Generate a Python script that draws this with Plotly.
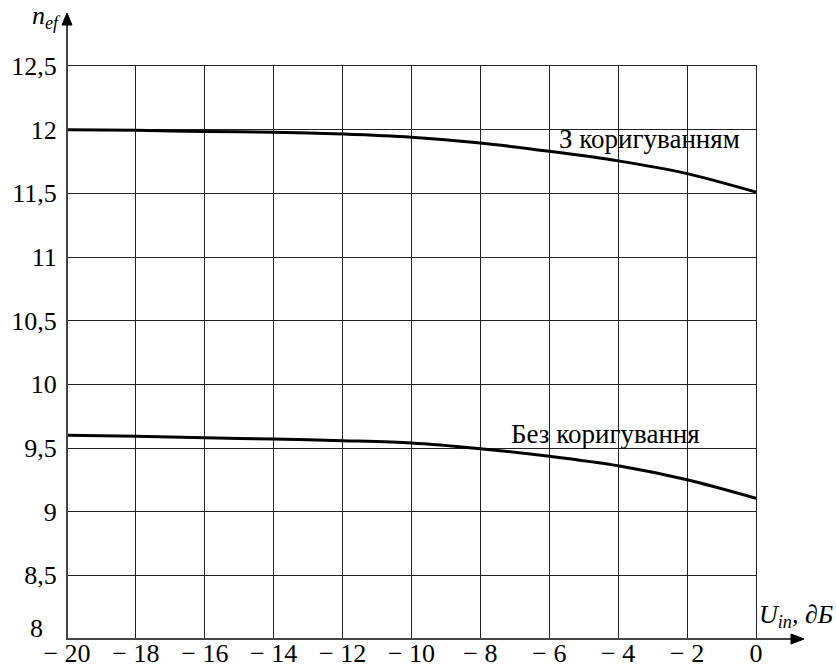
import plotly.graph_objects as go

# Input level, dB
u_in = [-20, -18, -16, -14, -12, -10, -8, -6, -4, -2, 0]
# Effective number of bits with and without correction
n_corrected = [12.00, 11.995, 11.985, 11.98, 11.965, 11.94, 11.895, 11.83, 11.755, 11.655, 11.51]
n_uncorrected = [9.60, 9.593, 9.58, 9.57, 9.557, 9.54, 9.495, 9.435, 9.36, 9.25, 9.105]

x_ticks = [-20, -18, -16, -14, -12, -10, -8, -6, -4, -2, 0]
x_labels = ["\u2212 20", "\u2212 18", "\u2212 16", "\u2212 14", "\u2212 12", "\u2212 10",
            "\u2212 8", "\u2212 6", "\u2212 4", "\u2212 2", "0"]
y_ticks = [8, 8.5, 9, 9.5, 10, 10.5, 11, 11.5, 12, 12.5]
y_labels = ["8", "8,5", "9", "9,5", "10", "10,5", "11", "11,5", "12", "12,5"]

label_corrected = "З коригуванням"
label_uncorrected = "Без коригування"

FONT = "Liberation Serif"
W, H = 836, 670
ML, MR, MT, MB = 67, 80, 66, 31
pw, ph = W - ML - MR, H - MT - MB

fig = go.Figure()
for ys in (n_corrected, n_uncorrected):
    fig.add_trace(go.Scatter(
        x=u_in, y=ys, mode="lines",
        line=dict(color="black", width=3, shape="spline", smoothing=0.8),
        showlegend=False, hoverinfo="skip"))

# pixel -> paper helpers for axis arrows
def px(dx):
    return dx / pw

def py(dy):
    return dy / ph

axis_col = "#444444"
shapes = [
    # left axis with room for the arrow
    dict(type="line", xref="paper", yref="paper", x0=0, y0=0, x1=0, y1=1 + py(52),
         line=dict(color=axis_col, width=2)),
    # bottom axis
    dict(type="line", xref="paper", yref="paper", x0=0, y0=0, x1=1 + px(40), y1=0,
         line=dict(color=axis_col, width=2)),
    # arrow heads
    dict(type="path", xref="paper", yref="paper",
         path=f"M {-px(5)} {1 + py(41)} L 0 {1 + py(53)} L {px(5)} {1 + py(41)} Z",
         fillcolor="black", line=dict(color="black", width=1)),
    dict(type="path", xref="paper", yref="paper",
         path=f"M {1 + px(35)} {py(5)} L {1 + px(48)} 0 L {1 + px(35)} {-py(5)} Z",
         fillcolor="black", line=dict(color="black", width=1)),
]

annotations = [
    dict(text=label_corrected, x=-5.77, y=11.93, xref="x", yref="y",
         xanchor="left", yanchor="middle", showarrow=False,
         font=dict(family=FONT, size=27, color="black")),
    dict(text=label_uncorrected, x=-7.16, y=9.61, xref="x", yref="y",
         xanchor="left", yanchor="middle", showarrow=False,
         font=dict(family=FONT, size=27, color="black")),
    dict(text="<i>n<sub>ef</sub></i>", x=-px(37), y=1 + py(49), xref="paper", yref="paper",
         xanchor="left", yanchor="middle", showarrow=False,
         font=dict(family=FONT, size=26, color="black")),
    dict(text="<i>U<sub>in</sub>, ∂Б</i>", x=1 + px(1), y=py(23), xref="paper", yref="paper",
         xanchor="left", yanchor="middle", showarrow=False,
         font=dict(family=FONT, size=26, color="black")),
    # lowest y label sits raised above the x-axis labels
    dict(text=y_labels[0], x=-px(22), y=y_ticks[0], xref="paper", yref="y",
         xanchor="right", yanchor="middle", yshift=11, showarrow=False,
         font=dict(family=FONT, size=26, color="black")),
]

fig.update_layout(
    width=W, height=H,
    margin=dict(l=ML, r=MR, t=MT, b=MB, autoexpand=False),
    paper_bgcolor="white", plot_bgcolor="white",
    font=dict(family=FONT, size=26, color="black"),
    shapes=shapes, annotations=annotations,
    xaxis=dict(range=[-20, 0], tickvals=x_ticks, ticktext=x_labels,
               showgrid=True, gridcolor="#222222", gridwidth=1,
               zeroline=False, showline=True, mirror=True, linecolor="#222222", linewidth=1,
               ticks="", ticklabelstandoff=-9,
               tickfont=dict(family=FONT, size=26, color="black")),
    yaxis=dict(range=[8, 12.5], tickvals=y_ticks[1:], ticktext=y_labels[1:],
               showgrid=True, gridcolor="#222222", gridwidth=1,
               zeroline=False, showline=True, mirror=True, linecolor="#222222", linewidth=1,
               ticks="", ticklabelstandoff=4,
               tickfont=dict(family=FONT, size=26, color="black")),
)

fig.write_html("out.html")
